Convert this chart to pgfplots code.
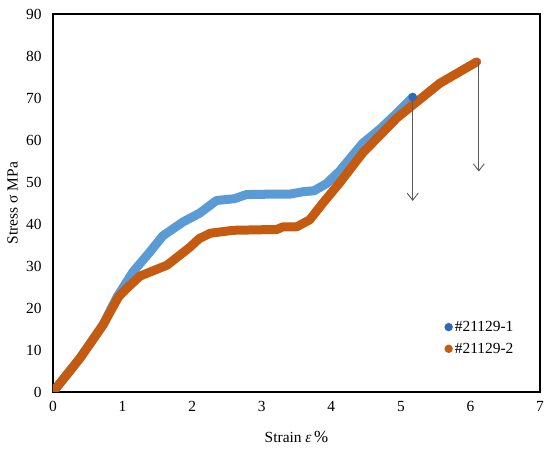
\documentclass[border=0pt]{standalone}
\usepackage{pgfplots}
\pgfplotsset{compat=1.18}
\usepackage{fontspec}
\setmainfont{Liberation Serif}
\usetikzlibrary{arrows.meta}
\definecolor{exblue}{HTML}{5B9BD5}
\definecolor{exorange}{HTML}{C55A11}
\definecolor{legblue}{HTML}{3366B8}
\begin{document}
\begin{tikzpicture}[x=1bp,y=1bp]
\useasboundingbox (-53,-58) rectangle (497,392);
\begin{axis}[
  at={(0,0)}, anchor=south west,
  scale only axis, width=487bp, height=378bp,
  xmin=0, xmax=7, ymin=0, ymax=90,
  xtick={0,1,...,7}, ytick={0,10,...,90},
  major tick length=0pt,
  axis line style={line width=2.2bp, black},
  /pgf/number format/assume math mode=true,
  tick label style={font=\fontsize{15.5}{18}\selectfont},
  xticklabel style={yshift=-6bp},
  yticklabel style={xshift=-8bp},
  label style={font=\fontsize{15.5}{18}\selectfont},
  xlabel={Strain \textit{ε}\,{\fontsize{17}{18}\selectfont\%}},
  ylabel={Stress σ MPa},
  xlabel style={at={(axis description cs:0.5,0)}, anchor=center, yshift=-45bp},
  ylabel style={at={(axis description cs:-0.083,0.5)}, anchor=center},
  legend style={draw=none, fill=none, at={(0.95,0.193)}, anchor=north east,
    font=\fontsize{15.5}{18}\selectfont, row sep=6bp, inner sep=0pt},
  legend cell align=left,
]
\addplot[exblue, line width=9bp, line join=round, line cap=round,
  legend image code/.code={\fill[legblue, draw=none] (0.4cm,0) circle (4.2bp);}]
coordinates {
(0,0) (0.39,8.1) (0.72,16) (0.92,22.6) (1.15,28.6) (1.39,33.3) (1.58,37.2)
(1.87,40.5) (2.11,42.6) (2.35,45.6) (2.6,46.0) (2.78,47.0) (3.1,47.1)
(3.4,47.1) (3.6,47.7) (3.75,47.9) (3.93,49.6) (4.12,52.6) (4.45,59.2)
(4.7,62.6) (4.95,66.5) (5.17,70.2)
};
\addlegendentry{\#21129-1}
\addplot[exorange, line width=9bp, line join=round, line cap=round,
  legend image code/.code={\fill[exorange, draw=none] (0.4cm,0) circle (4.2bp);}]
coordinates {
(0,0) (0.39,8.1) (0.72,16) (0.94,22.6) (1.05,24.5) (1.25,27.6) (1.64,30.2)
(1.97,34.5) (2.1,36.5) (2.26,37.8) (2.59,38.5) (3.22,38.7) (3.3,39.3)
(3.5,39.3) (3.69,41) (3.88,45) (4.12,49.8) (4.45,56.9) (4.94,65.2)
(5.17,68.3) (5.56,73.5) (6.09,78.6)
};
\addlegendentry{\#21129-2}
\addplot[only marks, mark=*, mark size=4bp, legblue, forget plot] coordinates {(5.17,70.2)};
\draw[-{Straight Barb[length=7bp,width=11bp]}, line width=0.9bp, black!65]
  (axis cs:5.17,70.2) -- (axis cs:5.17,45.5);
\draw[-{Straight Barb[length=7bp,width=11bp]}, line width=0.9bp, black!65]
  (axis cs:6.12,78.6) -- (axis cs:6.12,52.5);
\end{axis}
\end{tikzpicture}
\end{document}
